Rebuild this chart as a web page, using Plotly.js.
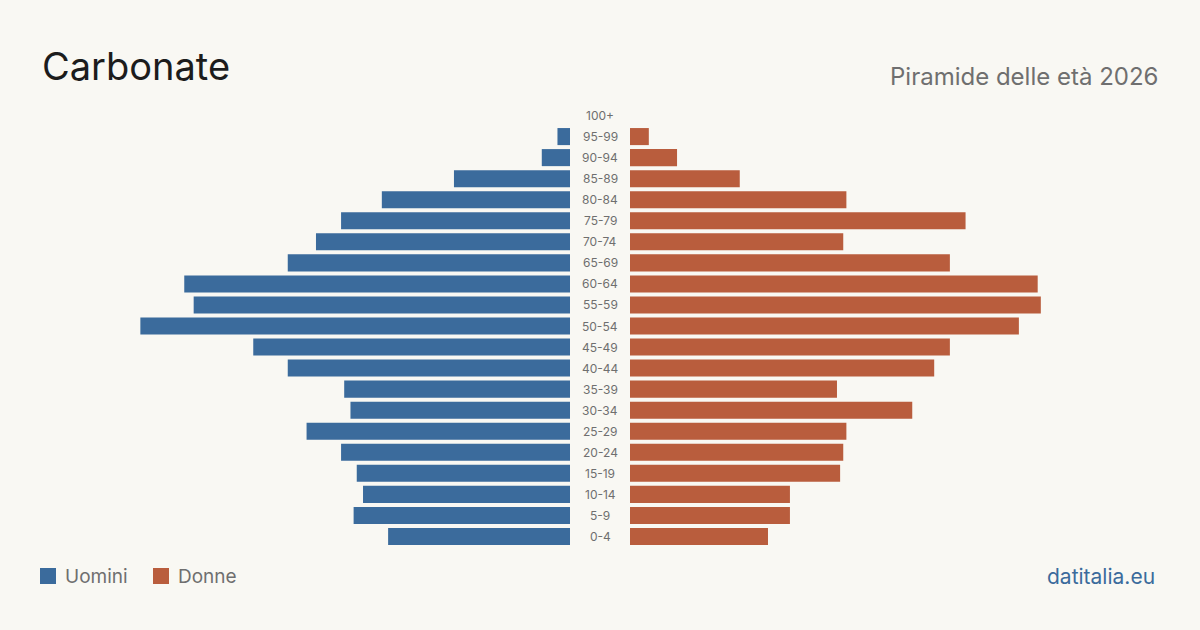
<!DOCTYPE html>
<html>
<head>
<meta charset="utf-8">
<script src="https://cdn.plot.ly/plotly-3.0.1.min.js"></script>
<style>
html,body{margin:0;padding:0;background:#f9f8f3;}
#chart{width:1200px;height:630px;}
</style>
</head>
<body>
<div id="chart"></div>
<script>
// Age groups, bottom to top
var ageGroups = ["0-4","5-9","10-14","15-19","20-24","25-29","30-34","35-39","40-44","45-49","50-54","55-59","60-64","65-69","70-74","75-79","80-84","85-89","90-94","95-99","100+"];
var uomini = [58,69,66,68,73,84,70,72,90,101,137,120,123,90,81,73,60,37,9,4,0];
var donne  = [44,51,51,67,68,69,90,66,97,102,124,131,130,102,68,107,69,35,15,6,0];

var titleText = "Carbonate";
var subtitleText = "Piramide delle età 2026";
var legendNames = ["Uomini","Donne"];
var sourceText = "datitalia.eu";

var BLUE = "#3b6b9c", ORANGE = "#b95d3d", BG = "#f9f8f3";
var W = 1200, H = 630, ML = 40, MR = 40, MT = 105, MB = 83;
var plotW = W - ML - MR, plotH = H - MT - MB;
function px(x){ return (x - ML) / plotW; }
function py(y){ return (H - MB - y) / plotH; }

var axisMax = 169;

var traces = [
  {type:"bar", orientation:"h", y:ageGroups, x:uomini, xaxis:"x", yaxis:"y",
   marker:{color:BLUE}, name:legendNames[0], hoverinfo:"skip"},
  {type:"bar", orientation:"h", y:ageGroups, x:donne, xaxis:"x2", yaxis:"y2",
   marker:{color:ORANGE}, name:legendNames[1], hoverinfo:"skip"}
];

var annotations = ageGroups.map(function(g){
  return {xref:"paper", yref:"y", x:0.5, y:g, text:g, showarrow:false,
          xanchor:"center", yanchor:"middle",
          font:{family:"Inter, 'Noto Sans', sans-serif", size:12, color:"#6f6f6f"}};
});
annotations.push({xref:"paper", yref:"paper", x:px(40), y:py(66), text:titleText, showarrow:false,
  xanchor:"left", yanchor:"middle", font:{family:"Inter, sans-serif", size:38, color:"#1c1c1c"}});
annotations.push({xref:"paper", yref:"paper", x:px(1160), y:py(76), text:subtitleText, showarrow:false,
  xanchor:"right", yanchor:"middle", font:{family:"Inter, sans-serif", size:24, color:"#6f6f6f"}});
annotations.push({xref:"paper", yref:"paper", x:px(63), y:py(576), text:legendNames[0], showarrow:false,
  xanchor:"left", yanchor:"middle", font:{family:"Inter, sans-serif", size:19, color:"#6f6f6f"}});
annotations.push({xref:"paper", yref:"paper", x:px(176), y:py(576), text:legendNames[1], showarrow:false,
  xanchor:"left", yanchor:"middle", font:{family:"Inter, sans-serif", size:19, color:"#6f6f6f"}});
annotations.push({xref:"paper", yref:"paper", x:px(1157), y:py(576), text:sourceText, showarrow:false,
  xanchor:"right", yanchor:"middle", font:{family:"Inter, sans-serif", size:21, color:BLUE}});

var shapes = [
  {type:"rect", xref:"paper", yref:"paper", x0:px(40), x1:px(56), y0:py(584), y1:py(568), fillcolor:BLUE, line:{width:0}},
  {type:"rect", xref:"paper", yref:"paper", x0:px(153), x1:px(169), y0:py(584), y1:py(568), fillcolor:ORANGE, line:{width:0}}
];

var hiddenAxis = {showgrid:false, zeroline:false, showticklabels:false, showline:false, ticks:""};

var layout = {
  width:W, height:H,
  margin:{l:ML, r:MR, t:MT, b:MB, pad:0},
  paper_bgcolor:BG, plot_bgcolor:BG,
  showlegend:false,
  bargap:0.19,
  xaxis: Object.assign({}, hiddenAxis, {domain:[0, 530/plotW], range:[axisMax, 0], fixedrange:true}),
  xaxis2: Object.assign({}, hiddenAxis, {domain:[590/plotW, 1], range:[0, axisMax], anchor:"y2", fixedrange:true}),
  yaxis: Object.assign({}, hiddenAxis, {type:"category", categoryorder:"array", categoryarray:ageGroups, range:[-0.5, 20.5], anchor:"x"}),
  yaxis2: Object.assign({}, hiddenAxis, {type:"category", categoryorder:"array", categoryarray:ageGroups, range:[-0.5, 20.5], anchor:"x2", overlaying:"y"}),
  annotations:annotations,
  shapes:shapes
};

Plotly.newPlot("chart", traces, layout, {displayModeBar:false, staticPlot:true});
</script>
</body>
</html>
